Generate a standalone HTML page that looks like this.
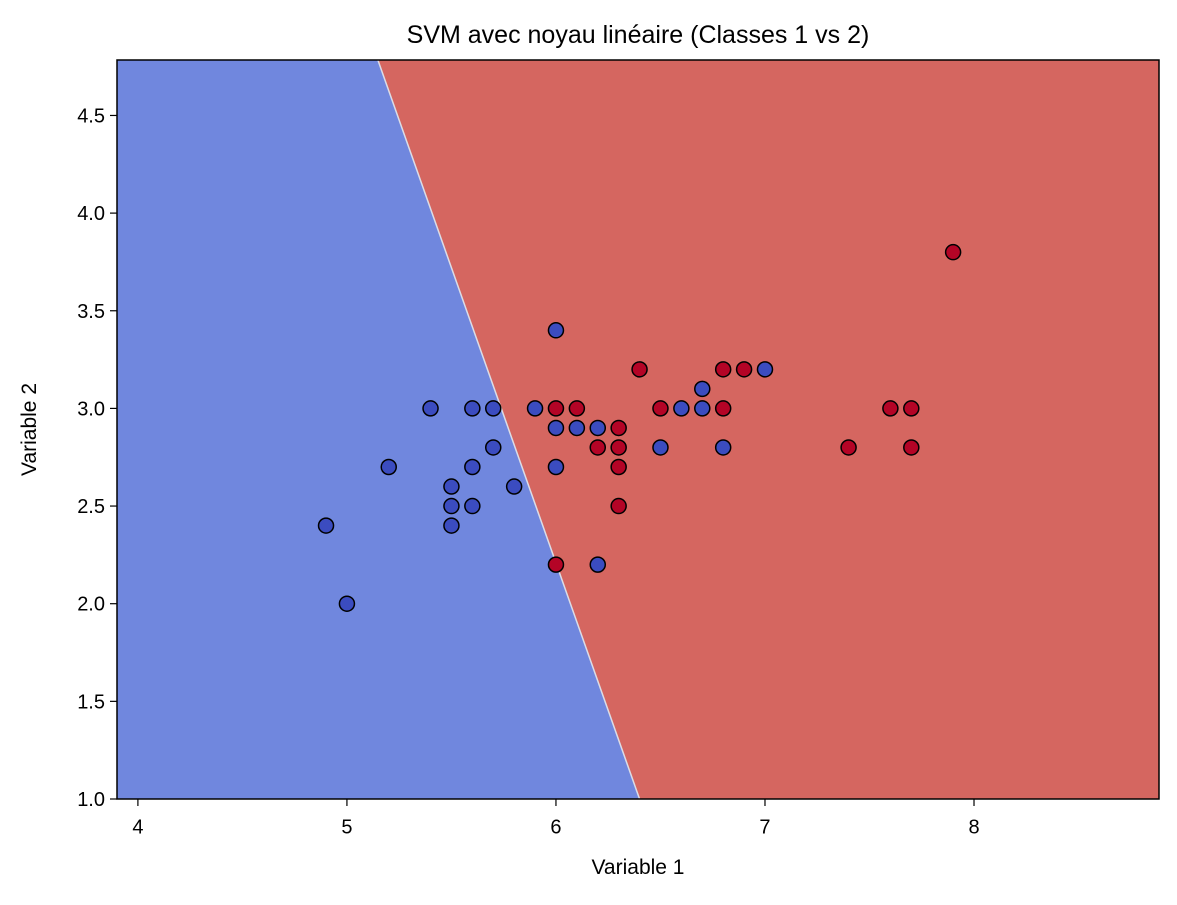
<!DOCTYPE html>
<html><head><meta charset="utf-8"><style>
body{margin:0;background:#fff}
text{font-family:"Liberation Sans","DejaVu Sans",sans-serif;fill:#000}
</style></head><body>
<svg id="chart" width="1177" height="900" xmlns="http://www.w3.org/2000/svg">
<g id="plot"></g>
</svg>
<script>
const xDomain=[3.9,8.885];
const yDomain=[1.0,4.784];
const xTicks=[4,5,6,7,8];
const yTicks=[1.0,1.5,2.0,2.5,3.0,3.5,4.0,4.5];
const boundaryTop=[5.148,4.784];
const boundaryBottom=[6.40,1.0];
const class1X=[4.9,5.0,5.2,5.4,5.5,5.5,5.5,5.6,5.6,5.6,5.7,5.7,5.8,5.9,6.0,6.0,6.0,6.1,6.2,6.2,6.5,6.6,6.7,6.7,6.8,7.0];
const class1Y=[2.4,2.0,2.7,3.0,2.6,2.5,2.4,3.0,2.7,2.5,3.0,2.8,2.6,3.0,3.4,2.9,2.7,2.9,2.9,2.2,2.8,3.0,3.1,3.0,2.8,3.2];
const class2X=[6.0,6.0,6.1,6.2,6.3,6.3,6.3,6.3,6.4,6.5,6.8,6.8,6.9,7.4,7.6,7.7,7.7,7.9];
const class2Y=[3.0,2.2,3.0,2.8,2.9,2.8,2.7,2.5,3.2,3.0,3.2,3.0,3.2,2.8,3.0,3.0,2.8,3.8];

const L=117,R=1159,T=60,B=799;
const sx=v=>L+(v-xDomain[0])/(xDomain[1]-xDomain[0])*(R-L);
const sy=v=>B-(v-yDomain[0])/(yDomain[1]-yDomain[0])*(B-T);
const NS='http://www.w3.org/2000/svg';
const g=document.getElementById('plot');
function mk(tag,attrs,parent){const e=document.createElementNS(NS,tag);for(const k in attrs)e.setAttribute(k,attrs[k]);(parent||g).appendChild(e);return e;}

let e=mk('rect',{x:L,y:T,width:R-L,height:B-T,fill:'#d56660'});


const tx=sx(boundaryTop[0]),bx=sx(boundaryBottom[0]);
e=mk('polygon',{points:`${L},${T} ${tx},${sy(boundaryTop[1])} ${bx},${sy(boundaryBottom[1])} ${L},${B}`,fill:'#7087de'});


e=mk('line',{x1:tx,y1:T,x2:bx,y2:B,stroke:'#dcdde6','stroke-width':1.5});



class1X.forEach((x,i)=>{const c=mk('circle',{cx:sx(x),cy:sy(class1Y[i]),r:7.5,fill:'#3b4cc0',stroke:'#000','stroke-width':1.5});

});
class2X.forEach((x,i)=>{const c=mk('circle',{cx:sx(x),cy:sy(class2Y[i]),r:7.5,fill:'#b40426',stroke:'#000','stroke-width':1.5});

});

e=mk('rect',{x:L,y:T,width:R-L,height:B-T,fill:'none',stroke:'#000','stroke-width':1.5});



xTicks.forEach(v=>{const x=sx(v);mk('line',{x1:x,y1:B,x2:x,y2:B+7,stroke:'#000','stroke-width':1.2});
const t=mk('text',{x:x,y:B+21+7,'text-anchor':'middle','font-size':'20'});t.textContent=v;
t.setAttribute('y',B+21);
t.setAttribute('dominant-baseline','hanging');

});
yTicks.forEach(v=>{const y=sy(v);mk('line',{x1:L-7,y1:y,x2:L,y2:y,stroke:'#000','stroke-width':1.2});
const t=mk('text',{x:L-12,y:y+7,'text-anchor':'end','font-size':'20'});t.textContent=v.toFixed(1);

});

e=mk('text',{x:(L+R)/2,y:874,'text-anchor':'middle','font-size':'21'});e.textContent='Variable 1';


e=mk('text',{x:0,y:0,'text-anchor':'middle','font-size':'21',transform:`translate(36,${(T+B)/2}) rotate(-90)`});e.textContent='Variable 2';


e=mk('text',{x:(L+R)/2,y:43,'text-anchor':'middle','font-size':'25'});e.textContent='SVM avec noyau linéaire (Classes 1 vs 2)';


</script>
</body></html>
